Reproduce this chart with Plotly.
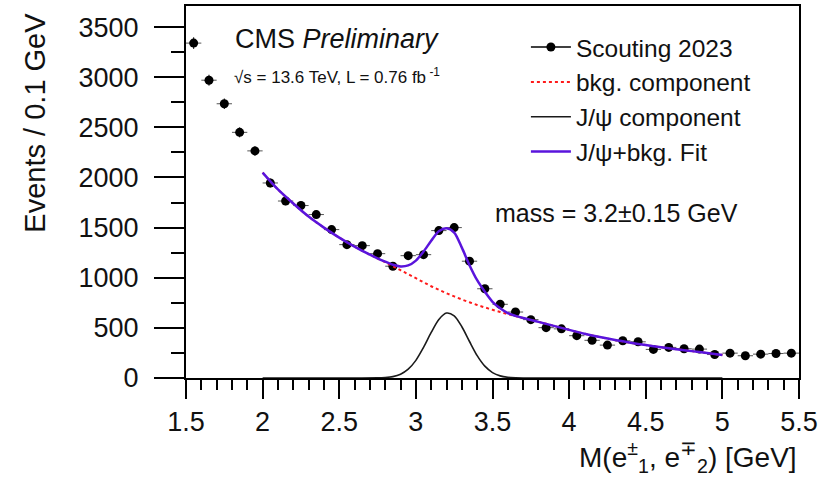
import numpy as np
import plotly.graph_objects as go

# ---- data ----
mass_centers = [1.55, 1.65, 1.75, 1.85, 1.95, 2.05, 2.15, 2.25, 2.35, 2.45,
                2.55, 2.65, 2.75, 2.85, 2.95, 3.05, 3.15, 3.25, 3.35, 3.45,
                3.55, 3.65, 3.75, 3.85, 3.95, 4.05, 4.15, 4.25, 4.35, 4.45,
                4.55, 4.65, 4.75, 4.85, 4.95, 5.05, 5.15, 5.25, 5.35, 5.45]
events = [3340, 2970, 2735, 2450, 2265, 1945, 1765, 1720, 1630, 1480,
          1330, 1320, 1240, 1115, 1220, 1230, 1470, 1500, 1165, 890,
          735, 658, 582, 502, 490, 422, 376, 328, 371, 361,
          285, 305, 292, 288, 234, 248, 222, 238, 244, 248]
bin_half_width = [0.05] * len(mass_centers)

bkg_x = [2.0, 2.1, 2.2, 2.3, 2.4, 2.5, 2.6, 2.7, 2.75, 2.8, 2.85, 2.9, 2.95,
         3.0, 3.05, 3.1, 3.15, 3.2, 3.25, 3.3, 3.35, 3.4, 3.45, 3.5, 3.55,
         3.6, 3.65, 3.7, 3.8, 3.9, 4.0, 4.1, 4.2, 4.3, 4.4, 4.5, 4.6, 4.7,
         4.8, 4.9, 5.0]
bkg_y = [2048, 1880, 1740, 1610, 1500, 1400, 1310, 1230, 1192, 1155, 1115,
         1075, 1035, 995, 955, 915, 880, 845, 814, 783, 755, 728, 704, 680,
         658, 637, 617, 598, 560, 520, 480, 442, 408, 378, 352, 328, 307,
         287, 268, 249, 229]

jpsi_x = [2.0, 2.6, 2.75, 2.8, 2.85, 2.9, 2.95, 3.0, 3.05, 3.1, 3.15, 3.2,
          3.25, 3.3, 3.35, 3.4, 3.45, 3.5, 3.55, 3.6, 3.65, 3.7, 3.8, 5.0]
jpsi_y = [0, 0, 1, 5, 14, 38, 88, 176, 305, 454, 584, 648,
          620, 511, 364, 223, 118, 54, 21, 7, 2, 0, 0, 0]

fit_x = [2.0, 2.1, 2.2, 2.3, 2.4, 2.5, 2.6, 2.7, 2.75, 2.8, 2.85, 2.9, 2.95,
         3.0, 3.05, 3.1, 3.15, 3.2, 3.25, 3.3, 3.35, 3.4, 3.45, 3.5, 3.55,
         3.6, 3.65, 3.7, 3.8, 3.9, 4.0, 4.1, 4.2, 4.3, 4.4, 4.5, 4.6, 4.7,
         4.8, 4.9, 5.0]
fit_y = [2048, 1880, 1740, 1610, 1500, 1400, 1310, 1230, 1193, 1160, 1129,
         1113, 1123, 1171, 1261, 1369, 1464, 1493, 1450, 1300, 1125, 975,
         860, 760, 695, 647, 620, 598, 560, 520, 480, 442, 408, 378, 352,
         328, 307, 287, 268, 249, 229]

x_tick_vals = [1.5, 2, 2.5, 3, 3.5, 4, 4.5, 5, 5.5]
x_tick_text = ["1.5", "2", "2.5", "3", "3.5", "4", "4.5", "5", "5.5"]
y_tick_vals = [0, 500, 1000, 1500, 2000, 2500, 3000, 3500]

FONT = "Liberation Sans, Arial, Helvetica, sans-serif"
PURPLE = "#5a14dc"
TXT = "#111"

fig = go.Figure()

# data points
fig.add_trace(go.Scatter(
    x=mass_centers, y=events, mode="markers", showlegend=False,
    marker=dict(color="black", size=9, symbol="circle"),
    error_x=dict(type="data", array=bin_half_width, color="#555", thickness=1, width=0),
    error_y=dict(type="data", array=list(np.sqrt(events)), color="black", thickness=1, width=0),
))
# legend proxy for data
fig.add_trace(go.Scatter(
    x=[None], y=[None], mode="lines+markers", name="Scouting 2023",
    line=dict(color="black", width=1.5),
    marker=dict(color="black", size=9),
))
fig.add_trace(go.Scatter(
    x=bkg_x, y=bkg_y, mode="lines", name="bkg. component",
    line=dict(color="#ff1a1a", width=2, dash="dot", shape="spline"),
))
fig.add_trace(go.Scatter(
    x=jpsi_x, y=jpsi_y, mode="lines", name="J/\u03c8 component",
    line=dict(color="#1a1a1a", width=1.6, shape="spline", smoothing=0.8),
))
fig.add_trace(go.Scatter(
    x=fit_x, y=fit_y, mode="lines", name="J/\u03c8+bkg. Fit",
    line=dict(color=PURPLE, width=2.5, shape="spline", smoothing=0.8),
))

axis_common = dict(showline=True, linecolor="black", linewidth=2, mirror=True,
                   showgrid=False, zeroline=False, ticks="outside",
                   tickcolor="black", tickwidth=1.5)

fig.update_xaxes(range=[1.5, 5.5], tickvals=x_tick_vals, ticktext=x_tick_text,
                 ticklen=19, ticklabelstandoff=0,
                 tickfont=dict(family=FONT, size=27, color=TXT),
                 minor=dict(dtick=0.1, ticks="outside", ticklen=10,
                            tickcolor="black", tickwidth=1.5),
                 **axis_common)
fig.update_yaxes(range=[0, 3710], tickvals=y_tick_vals, ticklen=30,
                 ticklabelstandoff=10,
                 tickfont=dict(family=FONT, size=27, color=TXT),
                 minor=dict(dtick=250, ticks="outside", ticklen=13,
                            tickcolor="black", tickwidth=1.5),
                 **axis_common)

annotations = [
    dict(text="CMS <i>Preliminary</i>", xref="paper", yref="paper",
         x=0.0767, y=0.912, xanchor="left", yanchor="middle", showarrow=False,
         font=dict(family=FONT, size=27, color=TXT)),
    dict(text="\u221as = 13.6 TeV, L = 0.76 fb<sup> -1</sup>", xref="paper", yref="paper",
         x=0.075, y=0.813, xanchor="left", yanchor="middle", showarrow=False,
         font=dict(family=FONT, size=17, color=TXT)),
    dict(text="mass = 3.2\u00b10.15 GeV", xref="paper", yref="paper",
         x=0.5008, y=0.444, xanchor="left", yanchor="middle", showarrow=False,
         font=dict(family=FONT, size=25, color=TXT)),
    dict(text="Events / 0.1 GeV", xref="paper", yref="paper",
         x=-0.246, y=0.687, xanchor="center", yanchor="middle", showarrow=False,
         textangle=-90, font=dict(family=FONT, size=29, color=TXT)),
    dict(text="M(e<sup>\u00b1</sup><sub>1</sub>, e<sup>\u2213</sup><sub>2</sub>) [GeV]",
         xref="paper", yref="paper", x=1.0, y=-0.213, xanchor="right",
         yanchor="middle", showarrow=False,
         font=dict(family=FONT, size=28, color=TXT)),
]

fig.update_layout(
    width=835, height=480,
    margin=dict(l=186, r=36, t=4, b=102),
    paper_bgcolor="white", plot_bgcolor="white",
    annotations=annotations,
    legend=dict(x=0.5545, y=0.95, xanchor="left", yanchor="top",
                bgcolor="rgba(0,0,0,0)", borderwidth=0,
                font=dict(family=FONT, size=24.5, color=TXT),
                itemwidth=40),
)

fig.write_html("out.html")
